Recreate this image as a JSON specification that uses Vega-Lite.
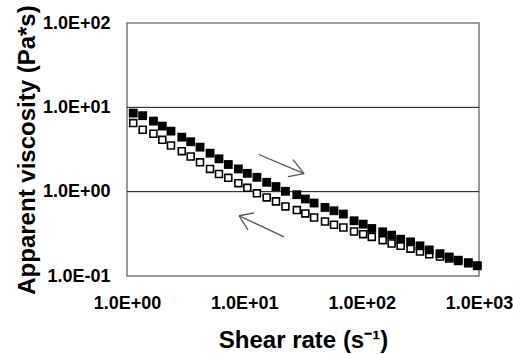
{
  "$schema": "https://vega.github.io/schema/vega-lite/v6.json",
  "width": 352,
  "height": 253,
  "autosize": {"type": "none"},
  "padding": {"left": 127, "top": 23, "right": 34, "bottom": 78},
  "background": "white",
  "config": {
    "view": {"stroke": "#7a7a7a", "strokeWidth": 1.5},
    "font": "Liberation Sans"
  },
  "datasets": {
    "points": [
      {"rate": 1.13, "up": 8.55, "down": 6.50},
      {"rate": 1.36, "up": 7.96, "down": 5.42},
      {"rate": 1.68, "up": 6.87, "down": 4.86},
      {"rate": 2.00, "up": 5.99, "down": 4.12},
      {"rate": 2.37, "up": 5.22, "down": 3.53},
      {"rate": 2.93, "up": 4.43, "down": 3.02},
      {"rate": 3.49, "up": 3.91, "down": 2.61},
      {"rate": 4.19, "up": 3.37, "down": 2.23},
      {"rate": 5.10, "up": 2.86, "down": 1.86},
      {"rate": 6.08, "up": 2.45, "down": 1.62},
      {"rate": 7.30, "up": 2.10, "down": 1.46},
      {"rate": 8.89, "up": 1.86, "down": 1.26},
      {"rate": 10.6, "up": 1.65, "down": 1.11},
      {"rate": 12.8, "up": 1.48, "down": 0.955},
      {"rate": 15.5, "up": 1.29, "down": 0.855},
      {"rate": 18.6, "up": 1.15, "down": 0.767},
      {"rate": 22.4, "up": 1.01, "down": 0.668},
      {"rate": 28.0, "up": 0.921, "down": 0.605},
      {"rate": 33.1, "up": 0.819, "down": 0.552},
      {"rate": 39.3, "up": 0.733, "down": 0.494},
      {"rate": 48.7, "up": 0.650, "down": 0.443},
      {"rate": 58.1, "up": 0.594, "down": 0.405},
      {"rate": 69.8, "up": 0.543, "down": 0.376},
      {"rate": 86.1, "up": 0.452, "down": 0.337},
      {"rate": 103, "up": 0.412, "down": 0.313},
      {"rate": 122, "up": 0.366, "down": 0.291},
      {"rate": 151, "up": 0.334, "down": 0.266},
      {"rate": 180, "up": 0.305, "down": 0.243},
      {"rate": 215, "up": 0.273, "down": 0.228},
      {"rate": 261, "up": 0.254, "down": 0.211},
      {"rate": 314, "up": 0.228, "down": 0.195},
      {"rate": 377, "up": 0.204, "down": 0.181},
      {"rate": 465, "up": 0.184, "down": 0.170},
      {"rate": 557, "up": 0.168, "down": 0.161},
      {"rate": 665, "up": 0.154, "down": 0.151},
      {"rate": 810, "up": 0.144, "down": 0.142},
      {"rate": 966, "up": 0.132, "down": 0.132}
    ],
    "arrows": [
      {"x1": 13.3, "y1": 2.76, "x2": 32.3, "y2": 1.64},
      {"x1": 26.0, "y1": 2.40, "x2": 32.3, "y2": 1.64},
      {"x1": 23.6, "y1": 1.51, "x2": 32.3, "y2": 1.64},
      {"x1": 21.8, "y1": 0.291, "x2": 9.01, "y2": 0.518},
      {"x1": 12.1, "y1": 0.562, "x2": 9.01, "y2": 0.518},
      {"x1": 10.75, "y1": 0.353, "x2": 9.01, "y2": 0.518}
    ],
    "grid": [{"g": 1}, {"g": 10}]
  },
  "layer": [
    {
      "data": {"name": "grid"},
      "mark": {"type": "rule", "color": "#111111", "strokeWidth": 1},
      "encoding": {
        "y": {"field": "g", "type": "quantitative", "scale": {"type": "log", "domain": [0.1, 100]},
          "axis": {"title": "Apparent viscosity (Pa*s)", "values": [0.1, 1, 10, 100],
            "labelExpr": "'1.0E' + (datum.value >= 1 ? '+' : '-') + '0' + abs(round(log(datum.value)/LN10))",
            "ticks": false, "tickSize": 0, "domain": false, "grid": false,
            "labelFont": "Liberation Sans", "labelFontSize": 18, "labelFontWeight": "bold", "labelColor": "black", "labelPadding": 17,
            "labelFlush": false, "labelOverlap": false,
            "titleFont": "Liberation Sans", "titleFontSize": 24, "titleFontWeight": "bold", "titleColor": "black", "titlePadding": 3}}
      }
    },
    {
      "data": {"name": "points"},
      "mark": {"type": "point", "shape": "square", "filled": false, "fill": "white", "fillOpacity": 1, "stroke": "black", "strokeWidth": 1.6, "size": 48, "opacity": 1, "clip": false},
      "encoding": {
        "x": {"field": "rate", "type": "quantitative", "scale": {"type": "log", "domain": [1, 1000]},
          "axis": {"title": "Shear rate (s⁻¹)", "values": [1, 10, 100, 1000],
            "labelExpr": "'1.0E' + (datum.value >= 1 ? '+' : '-') + '0' + abs(round(log(datum.value)/LN10))",
            "ticks": false, "tickSize": 0, "domain": false, "grid": false,
            "labelFont": "Liberation Sans", "labelFontSize": 18, "labelFontWeight": "bold", "labelColor": "black", "labelPadding": 18,
            "labelFlush": false, "labelOverlap": false,
            "titleFont": "Liberation Sans", "titleFontSize": 24, "titleFontWeight": "bold", "titleColor": "black", "titlePadding": 16}},
        "y": {"field": "down", "type": "quantitative"}
      }
    },
    {
      "data": {"name": "points"},
      "mark": {"type": "point", "shape": "square", "filled": true, "color": "black", "size": 78, "opacity": 1, "clip": false},
      "encoding": {
        "x": {"field": "rate", "type": "quantitative"},
        "y": {"field": "up", "type": "quantitative"}
      }
    },
    {
      "data": {"name": "arrows"},
      "mark": {"type": "rule", "color": "#555555", "strokeWidth": 1.3},
      "encoding": {
        "x": {"field": "x1", "type": "quantitative"},
        "y": {"field": "y1", "type": "quantitative"},
        "x2": {"field": "x2"},
        "y2": {"field": "y2"}
      }
    }
  ]
}
